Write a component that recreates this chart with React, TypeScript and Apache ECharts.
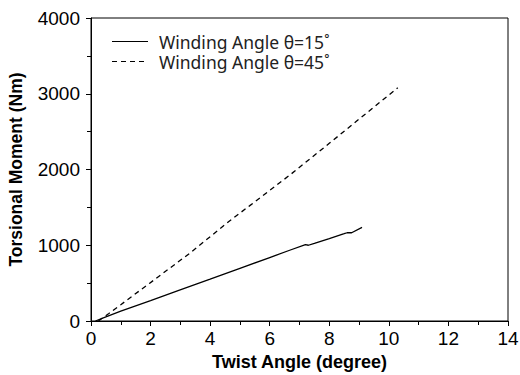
import React, { useEffect, useRef } from "react";
import * as echarts from "echarts";

const seriesNames = ["Winding Angle θ=15˚", "Winding Angle θ=45˚"];
const angle15: [number, number][] = [
  [0.15, 0], [0.5, 55], [1, 130], [2, 270], [2.97, 408], [4, 552], [5, 695], [6, 838],
  [6.67, 934], [7.2, 1008], [7.3, 1000], [7.5, 1025], [8, 1088], [8.5, 1152],
  [8.6, 1165], [8.75, 1165], [9.1, 1235],
];
const angle45: [number, number][] = [
  [0.25, 0], [0.6, 100], [1, 215], [1.96, 496], [3.3, 890], [4.65, 1320], [5.32, 1520],
  [6.67, 1925], [8, 2345], [9, 2665], [10.3, 3079],
];
const xTitle = "Twist Angle (degree)";
const yTitle = "Torsional Moment (Nm)";

const FONT = "Arial, 'Liberation Sans', sans-serif";
const LEGEND_FONT = "'Noto Sans', sans-serif";

export default function App() {
  const ref = useRef<HTMLDivElement>(null);
  useEffect(() => {
    const chart = echarts.init(ref.current!, undefined, { renderer: "svg" });
    const axisCommon = {
      axisLine: { show: true, lineStyle: { color: "#000", width: 1 } },
      axisTick: { show: true, inside: false, length: 5, lineStyle: { color: "#000" } },
      minorTick: { show: true, splitNumber: 2, length: 4, lineStyle: { color: "#000" } },
      splitLine: { show: false },
      axisLabel: { color: "#000", fontSize: 19, fontFamily: FONT },
    };
    const legendText = { fill: "#222", fontSize: 17.5, lineHeight: 16, fontFamily: LEGEND_FONT, verticalAlign: "middle" };
    const legendItems = [
      { type: "line", shape: { x1: 112, y1: 41.5, x2: 148, y2: 41.5 }, style: { stroke: "#000", lineWidth: 1.2 } },
      { type: "line", shape: { x1: 112, y1: 61.5, x2: 148, y2: 61.5 }, style: { stroke: "#000", lineWidth: 1.2, lineDash: [5, 4] } },
      { type: "text", x: 159, y: 41.5, style: { text: seriesNames[0], ...legendText } },
      { type: "text", x: 159, y: 61.5, style: { text: seriesNames[1], ...legendText } },
    ];
    chart.setOption({
      animation: false,
      backgroundColor: "#fff",
      grid: {
        left: 91, right: 12, top: 18, bottom: 54,
        show: true, borderColor: "#000", borderWidth: 1,
        containLabel: false, outerBoundsMode: "none",
      },
      graphic: legendItems,
      xAxis: {
        type: "value",
        min: 0,
        max: 14,
        interval: 2,
        name: xTitle,
        nameLocation: "middle",
        nameGap: 31,
        nameTextStyle: { color: "#000", fontSize: 18, fontWeight: "bold", fontFamily: FONT },
        ...axisCommon,
        axisLabel: { ...axisCommon.axisLabel, margin: 8 },
      },
      yAxis: {
        type: "value",
        min: 0,
        max: 4000,
        interval: 1000,
        name: yTitle,
        nameLocation: "middle",
        nameGap: 66,
        nameTextStyle: { color: "#000", fontSize: 17.5, fontWeight: "bold", fontFamily: FONT },
        ...axisCommon,
        axisLabel: { ...axisCommon.axisLabel, margin: 11, formatter: (v: number) => String(v) },
      },
      series: [
        {
          name: seriesNames[0],
          type: "line",
          data: angle15,
          showSymbol: false,
          symbol: "none",
          lineStyle: { color: "#000", width: 1.3, type: "solid" },
        },
        {
          name: seriesNames[1],
          type: "line",
          data: angle45,
          showSymbol: false,
          symbol: "none",
          lineStyle: { color: "#000", width: 1.3, type: [5, 4] },
        },
      ],
    });
    return () => chart.dispose();
  }, []);
  return <div ref={ref} style={{ width: 520, height: 375, position: "absolute", left: 0, top: 0 }} />;
}
